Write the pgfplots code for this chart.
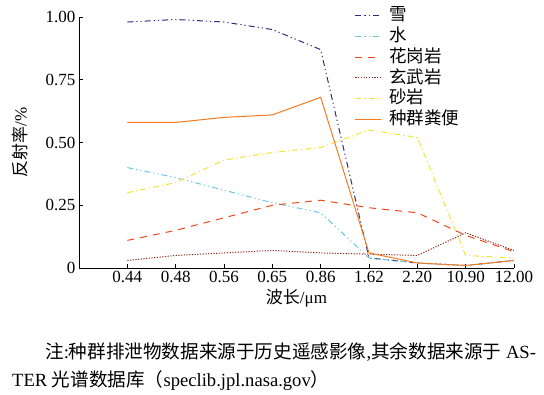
\documentclass[border=0pt]{standalone}
\usepackage{fontspec}
\setmainfont{Liberation Serif}
\newfontfamily\cjk{Noto Sans CJK SC}
\usepackage{pgfplots}
\pgfplotsset{compat=1.18}
\definecolor{snow}{HTML}{2E2E82}
\definecolor{water}{HTML}{6CC8DC}
\definecolor{granite}{HTML}{EC4A1E}
\definecolor{basalt}{HTML}{8E2A1E}
\definecolor{sand}{HTML}{F0E63A}
\definecolor{dung}{HTML}{F47A20}
\begin{document}
\begin{tikzpicture}
\path[use as bounding box] (0,0) rectangle (544pt,395pt);
\begin{axis}[
  scale only axis, width=435pt, height=251pt,
  at={(79pt,127pt)}, anchor=south west,
  xmin=-1, xmax=8, ymin=0, ymax=1,
  axis lines=left, axis line style={-, line width=0.8pt},
  xtick={0,...,8},
  xticklabels={0.44,0.48,0.56,0.65,0.86,1.62,2.20,10.90,12.00},
  ytick={0,0.25,0.5,0.75,1}, yticklabels={0,0.25,0.50,0.75,1.00},
  tick align=inside, major tick length=4pt, tick style={black, line width=0.6pt},
  ticklabel style={font=\fontsize{17}{20}\selectfont},
  /pgf/number format/assume math mode=true,
  xlabel={{\cjk 波长}/μm}, ylabel={{\cjk 反射率}/\%},
  label style={font=\fontsize{17}{20}\selectfont},
  xlabel style={at={(axis description cs:0.5,-0.1195)}, anchor=center},
  ylabel style={at={(axis description cs:-0.1356,0.5)}, anchor=center},
  legend style={at={(rel axis cs:0.634,1.048)}, anchor=north west, draw=none, fill=none,
    inner sep=0pt, row sep=0pt, font=\fontsize{17.5}{20}\selectfont\cjk,
    nodes={inner sep=1.5pt, text height=14pt, text depth=3.8pt}},
  legend cell align=left,
  legend image code/.code={\draw[#1, line width=1pt] (0pt,0pt) -- (26pt,0pt); \path (32pt,0pt);},
  every axis plot/.append style={line width=1pt},
]
\addplot[snow, dash pattern=on 6pt off 3pt on 1.2pt off 3pt on 1.2pt off 3pt] coordinates {
(0,0.98) (1,0.99) (2,0.98) (3,0.95) (4,0.87) (5,0.04) (6,0.02) (7,0.01) (8,0.03)};
\addlegendentry{雪}
\addplot[water, dash pattern=on 6pt off 3pt on 1.2pt off 3pt on 1.2pt off 3pt] coordinates {
(0,0.40) (1,0.36) (2,0.31) (3,0.26) (4,0.22) (5,0.04) (6,0.02) (7,0.01) (8,0.03)};
\addlegendentry{水}
\addplot[granite, dash pattern=on 7pt off 6pt] coordinates {
(0,0.11) (1,0.15) (2,0.20) (3,0.25) (4,0.27) (5,0.24) (6,0.22) (7,0.13) (8,0.065)};
\addlegendentry{花岗岩}
\addplot[basalt, dash pattern=on 1.2pt off 1.5pt] coordinates {
(0,0.03) (1,0.05) (2,0.06) (3,0.07) (4,0.06) (5,0.055) (6,0.05) (7,0.14) (8,0.07)};
\addlegendentry{玄武岩}
\addplot[sand, dash pattern=on 6pt off 3pt on 1.2pt off 3pt] coordinates {
(0,0.30) (1,0.34) (2,0.43) (3,0.46) (4,0.48) (5,0.55) (6,0.52) (7,0.05) (8,0.04)};
\addlegendentry{砂岩}
\addplot[dung] coordinates {
(0,0.58) (1,0.58) (2,0.60) (3,0.61) (4,0.68) (5,0.06) (6,0.02) (7,0.01) (8,0.03)};
\addlegendentry{种群粪便}
\end{axis}
\node[anchor=west, font=\fontsize{18.6}{22}\selectfont, inner sep=0pt] at (45pt,43pt)
  {{\cjk 注}:{\cjk 种群排泄物数据来源于历史遥感影像},{\cjk 其余数据来源于} AS-};
\node[anchor=west, font=\fontsize{18.6}{22}\selectfont, inner sep=0pt] at (12pt,14pt)
  {TER {\cjk 光谱数据库（}speclib.jpl.nasa.gov{\cjk ）}};
\end{tikzpicture}
\end{document}
